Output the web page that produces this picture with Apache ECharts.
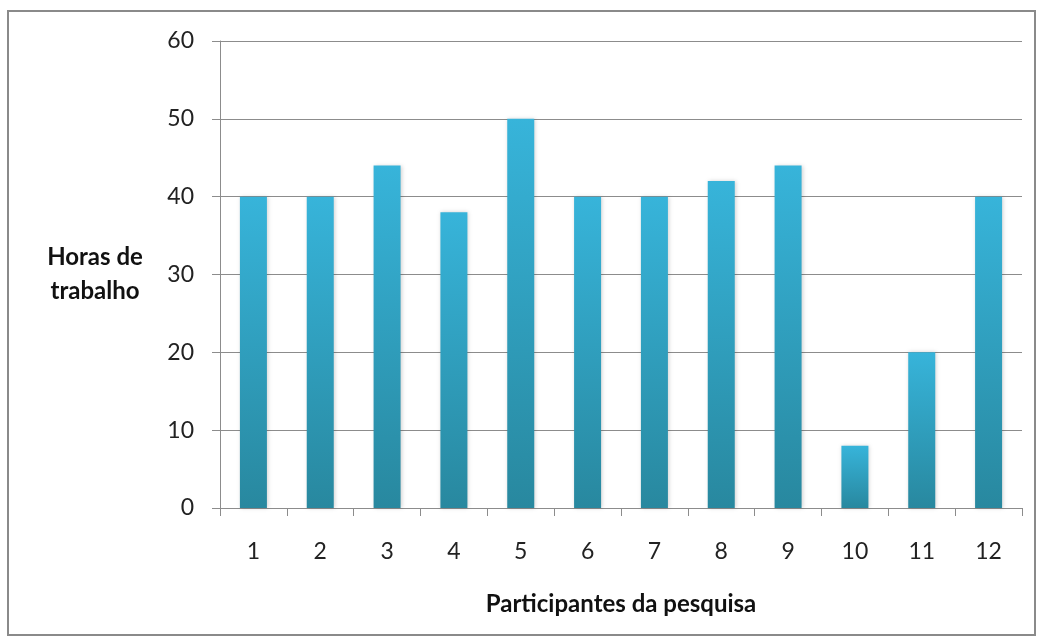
<!DOCTYPE html>
<html>
<head>
<meta charset="utf-8">
<script src="https://cdn.jsdelivr.net/npm/echarts@6/dist/echarts.min.js"></script>
<style>
  html, body { margin: 0; padding: 0; background: #fff; }
  #chart { width: 1040px; height: 643px; }
</style>
</head>
<body>
<div id="chart"></div>
<script>
// participants and weekly work hours
const participants = ["1", "2", "3", "4", "5", "6", "7", "8", "9", "10", "11", "12"];
const hours = [40, 40, 44, 38, 50, 40, 40, 42, 44, 8, 20, 40];
const yTicks = [0, 10, 20, 30, 40, 50, 60];

const font = "Lato, 'Open Sans', sans-serif";
const axisColor = "#8c8c8c";

let my_chart = echarts.init(document.getElementById("chart"));
my_chart.setOption({
  animation: false,
  graphic: [
    {
      type: "rect",
      shape: { x: 8, y: 11, width: 1027, height: 624 },
      style: { fill: "none", stroke: "#8a8a8a", lineWidth: 2 },
    },
  ],
  grid: {
    left: 220,
    right: 18,
    top: 41,
    bottom: 135,
  },
  xAxis: {
    type: "category",
    data: participants,
    name: "Participantes da pesquisa",
    nameLocation: "middle",
    nameGap: 96,
    nameTextStyle: { fontFamily: font, fontSize: 24, fontWeight: "bold", color: "#111", verticalAlign: "middle" },
    axisLine: { lineStyle: { color: axisColor } },
    axisTick: { show: true, length: 8, lineStyle: { color: axisColor } },
    axisLabel: { fontFamily: font, fontSize: 23, color: "#222", margin: 32 },
  },
  yAxis: {
    type: "value",
    min: yTicks[0],
    max: yTicks[yTicks.length - 1],
    interval: 10,
    name: "Horas de\ntrabalho",
    nameLocation: "middle",
    nameRotate: 0,
    nameGap: 125,
    nameTextStyle: { fontFamily: font, fontSize: 24, fontWeight: "bold", color: "#111", align: "center", lineHeight: 34 },
    axisLine: { show: true, lineStyle: { color: axisColor } },
    axisTick: { show: true, length: 8, lineStyle: { color: axisColor } },
    axisLabel: { fontFamily: font, fontSize: 23, color: "#222", margin: 26 },
    splitLine: { lineStyle: { color: axisColor } },
  },
  series: [
    {
      type: "bar",
      data: hours,
      barWidth: 27,
      itemStyle: {
        color: new echarts.graphic.LinearGradient(0, 0, 0, 1, [
          { offset: 0, color: "#37b4da" },
          { offset: 1, color: "#28889f" },
        ]),
        shadowColor: "rgba(0,0,0,0.18)",
        shadowBlur: 4,
        shadowOffsetX: 1,
      },
    },
  ],
});
</script>
</body>
</html>
